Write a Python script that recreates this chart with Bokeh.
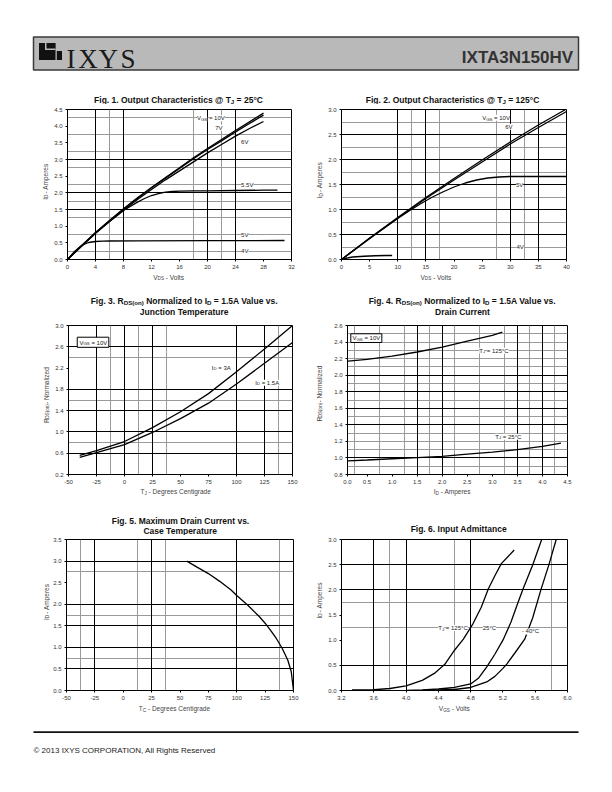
import math
from bokeh.plotting import figure
from bokeh.layouts import column, row
from bokeh.models import Label, BoxAnnotation, Range1d, FixedTicker, Grid, NumeralTickFormatter
from bokeh.embed import file_html
from bokeh.resources import INLINE

# ---------------- data ----------------
# Fig. 1  Output characteristics @ TJ = 25C
f1_vds = [0, 2, 4, 6, 8, 10, 12, 14, 16, 18, 20, 22, 24, 26, 28]
f1_id_10v = [0, 0.41, 0.81, 1.17, 1.52, 1.85, 2.16, 2.46, 2.75, 3.05, 3.33, 3.60, 3.87, 4.13, 4.39]
f1_id_7v = [0, 0.41, 0.80, 1.16, 1.51, 1.84, 2.15, 2.44, 2.73, 3.02, 3.30, 3.56, 3.83, 4.08, 4.33]
f1_id_6v = [0, 0.40, 0.79, 1.14, 1.48, 1.80, 2.10, 2.39, 2.66, 2.93, 3.20, 3.45, 3.70, 3.93, 4.14]
f1_vds_55 = [0, 2, 4, 6, 8, 10, 11, 12, 13, 14, 15, 16, 18, 20, 24, 28, 30]
f1_id_55v = [0, 0.40, 0.79, 1.14, 1.47, 1.72, 1.83, 1.92, 1.98, 2.02, 2.04, 2.05, 2.06, 2.06, 2.07, 2.08, 2.08]
f1_vds_5 = [0, 1, 2, 3, 4, 5, 6, 10, 20, 31]
f1_id_5v = [0, 0.24, 0.42, 0.51, 0.54, 0.55, 0.555, 0.56, 0.565, 0.57]
f1_xticks = [0, 4, 8, 12, 16, 20, 24, 28, 32]
f1_yticks = [0, 0.5, 1.0, 1.5, 2.0, 2.5, 3.0, 3.5, 4.0, 4.5]

# Fig. 2  Output characteristics @ TJ = 125C
f2_vds = [0, 5, 10, 15, 20, 25, 30, 35, 40]
f2_id_10v = [0, 0.43, 0.84, 1.24, 1.62, 1.99, 2.35, 2.69, 3.01]
f2_id_6v = [0, 0.42, 0.83, 1.22, 1.59, 1.95, 2.31, 2.64, 2.96]
f2_vds_5 = [0, 5, 10, 12, 14, 16, 18, 20, 22, 24, 26, 28, 30, 35, 40]
f2_id_5v = [0, 0.42, 0.82, 0.97, 1.11, 1.24, 1.35, 1.45, 1.53, 1.59, 1.63, 1.65, 1.66, 1.66, 1.66]
f2_vds_4 = [0, 1, 2, 4, 6, 8, 9]
f2_id_4v = [0, 0.03, 0.05, 0.065, 0.075, 0.08, 0.08]
f2_xticks = [0, 5, 10, 15, 20, 25, 30, 35, 40]
f2_yticks = [0, 0.5, 1.0, 1.5, 2.0, 2.5, 3.0]

# Fig. 3  RDS(on) vs junction temperature
f3_tj = [-40, -25, 0, 25, 50, 75, 100, 125, 150]
f3_r_3a = [0.56, 0.65, 0.82, 1.08, 1.38, 1.72, 2.13, 2.56, 3.0]
f3_r_15a = [0.52, 0.61, 0.76, 0.99, 1.25, 1.54, 1.90, 2.29, 2.68]
f3_xticks = [-50, -25, 0, 25, 50, 75, 100, 125, 150]
f3_yticks = [0.2, 0.6, 1.0, 1.4, 1.8, 2.2, 2.6, 3.0]

# Fig. 4  RDS(on) vs drain current
f4_id_125 = [0.12, 0.5, 1.0, 1.5, 2.0, 2.5, 3.0, 3.2]
f4_r_125 = [2.17, 2.19, 2.23, 2.28, 2.34, 2.41, 2.48, 2.52]
f4_id_25 = [0.12, 0.5, 1.0, 1.5, 2.0, 2.5, 3.0, 3.5, 4.0, 4.37]
f4_r_25 = [0.965, 0.975, 0.99, 1.005, 1.02, 1.045, 1.07, 1.10, 1.14, 1.18]
f4_xticks = [0.11, 0.5, 1.0, 1.5, 2.0, 2.5, 3.0, 3.5, 4.0, 4.5]
f4_xlabel_over = {0.11: "0.0"}
f4_yticks = [0.8, 1.0, 1.2, 1.4, 1.6, 1.8, 2.0, 2.2, 2.4, 2.6]

# Fig. 5  Maximum drain current vs case temperature
f5_tc = [56, 65, 75, 85, 95, 100, 110, 120, 125, 130, 135, 140, 145, 148, 150]
f5_id = [3.0, 2.86, 2.71, 2.53, 2.33, 2.2, 1.97, 1.71, 1.56, 1.39, 1.2, 0.98, 0.7, 0.44, 0.0]
f5_xticks = [-50, -25, 0, 25, 50, 75, 100, 125, 150]
f5_yticks = [0, 0.5, 1.0, 1.5, 2.0, 2.5, 3.0, 3.5]

# Fig. 6  Input admittance
f6_vgs_125 = [3.33, 3.6, 3.8, 4.0, 4.2, 4.35, 4.48, 4.6, 4.71, 4.83, 4.93, 5.02, 5.1, 5.18, 5.34]
f6_id_125 = [0.01, 0.015, 0.04, 0.09, 0.2, 0.34, 0.52, 0.8, 1.02, 1.33, 1.65, 2.02, 2.28, 2.52, 2.79]
f6_vgs_25 = [4.0, 4.2, 4.4, 4.6, 4.8, 4.9, 5.0, 5.1, 5.2, 5.3, 5.38, 5.45, 5.57, 5.68]
f6_id_25 = [0.0, 0.01, 0.03, 0.06, 0.13, 0.25, 0.47, 0.72, 1.0, 1.36, 1.72, 2.02, 2.5, 3.0]
f6_vgs_m40 = [4.2, 4.6, 4.8, 5.0, 5.1, 5.2, 5.25, 5.35, 5.47, 5.57, 5.67, 5.77, 5.86]
f6_id_m40 = [0.0, 0.02, 0.06, 0.17, 0.28, 0.44, 0.53, 0.75, 1.02, 1.45, 2.0, 2.5, 3.0]
f6_xticks = [3.2, 3.6, 4.0, 4.4, 4.8, 5.2, 5.6, 6.0]
f6_yticks = [0, 0.5, 1.0, 1.5, 2.0, 2.5, 3.0]

# grid lines (black majors / grey minors) as drawn in the datasheet
f1_grid = dict(xb=[4, 8, 20, 24], xg=[6, 18, 22], yb=[1.5, 2.0, 3.0],
               yg=[0.25, 0.75, 1.25, 1.75, 2.25, 2.75, 3.25, 3.75, 4.25])
f2_grid = dict(xb=[10, 15, 30, 35], xg=[12.5, 17.5, 27.5, 32.5], yb=[0.5, 1.0, 1.5, 2.0, 2.5],
               yg=[0.25, 0.75, 1.25, 1.75, 2.25, 2.75])
f3_grid = dict(xb=[-25, 0, 25, 100, 125], xg=[-12.5, 12.5, 37.5, 137.5], yb=[0.6, 1.0, 1.4, 1.8, 2.6],
               yg=[0.8, 1.6, 2.4])
f4_grid = dict(xb=[1.5, 2.0, 3.5, 4.0], xg=[0.25, 0.75, 1.25, 1.75, 2.25, 2.75, 3.25, 3.75, 4.25],
               yb=[1.0, 1.4, 1.6, 1.8, 2.0],
               yg=[0.9, 1.1, 1.2, 1.3, 1.5, 1.7, 1.9, 2.1, 2.2, 2.3, 2.4, 2.5])
f5_grid = dict(xb=[-25, 25, 100], xg=[-37.5, 12.5, 37.5, 137.5], yb=[0.5, 1.0, 1.5, 2.0, 3.0],
               yg=[0.75, 1.75, 2.75])
f6_grid = dict(xb=[3.6, 4.0, 4.8], xg=[3.8, 4.6, 5.8], yb=[0.5, 2.0, 2.5], yg=[1.25, 1.75])

# ---------------- styling helpers ----------------
FONT = "Liberation Sans"
GRAY = "#9a9a9a"
PAGE_W = 604
TITLE_SIZE = 8.5
FIX = 1.8   # the renderer sets alphabetic text a little low; lift it back

AR = {' ': 278, '!': 278, '(': 333, ')': 333, ',': 278, '-': 333, '.': 278, '=': 584, '@': 1015,
      'A': 667, 'B': 667, 'C': 722, 'D': 722, 'E': 667, 'F': 611, 'G': 778, 'H': 722, 'I': 278, 'J': 500,
      'K': 667, 'L': 556, 'M': 833, 'N': 722, 'O': 778, 'P': 667, 'Q': 778, 'R': 722, 'S': 667, 'T': 611,
      'U': 722, 'V': 667, 'W': 944, 'X': 667, 'Y': 667, 'Z': 611, 'a': 556, 'b': 556, 'c': 500, 'd': 556,
      'e': 556, 'f': 278, 'g': 556, 'h': 556, 'i': 222, 'j': 222, 'k': 500, 'l': 222, 'm': 833, 'n': 556,
      'o': 556, 'p': 556, 'q': 556, 'r': 333, 's': 500, 't': 278, 'u': 556, 'v': 500, 'w': 722, 'x': 500,
      'y': 500, 'z': 500, '°': 400, '©': 737}
AB = {' ': 278, '(': 333, ')': 333, ',': 278, '-': 333, '.': 278, '=': 584, '@': 975,
      'A': 722, 'B': 722, 'C': 722, 'D': 722, 'E': 667, 'F': 611, 'G': 778, 'H': 722, 'I': 278, 'J': 556,
      'K': 722, 'L': 611, 'M': 833, 'N': 722, 'O': 778, 'P': 667, 'R': 722, 'S': 667, 'T': 611, 'V': 667,
      'a': 556, 'b': 611, 'c': 556, 'd': 611, 'e': 556, 'f': 333, 'g': 611, 'h': 611, 'i': 278, 'j': 278,
      'k': 556, 'l': 278, 'm': 889, 'n': 611, 'o': 611, 'p': 611, 'r': 389, 's': 556, 't': 333, 'u': 611,
      'v': 556, 'w': 778, 'x': 556, 'y': 556, 'z': 500, '°': 400}


def text_width(s, size, bold=False):
    t = AB if bold else AR
    return sum(t.get(c, 556) for c in s) * size / 1000.0


def layout_pieces(pieces, size, bold):
    """Split a run of normal / subscript pieces into positioned parts.
    Leading blanks are turned into an advance (SVG text drops them)."""
    out, adv = [], 0.0
    for txt, sub in pieces:
        fs = size * 0.72 if sub else size
        stripped = txt.lstrip(" ")
        adv += text_width(txt[:len(txt) - len(stripped)], fs, bold)
        out.append((stripped, adv, size * 0.2 if sub else 0.0, fs))
        adv += text_width(stripped, fs, bold)
    return out, adv


def strip(x0, x1, y0, y1):
    """A blank figure whose data coordinates are page pixels (y grows downward)."""
    f = figure(width=x1 - x0, height=y1 - y0, x_range=Range1d(x0, x1), y_range=Range1d(y1, y0),
               output_backend="svg", toolbar_location=None, x_axis_type=None, y_axis_type=None,
               min_border_left=0, min_border_right=0, min_border_top=0, min_border_bottom=0)
    f.outline_line_color = None
    f.background_fill_color = "white"
    f.border_fill_color = "white"
    return f


def page_text(fig, pieces, px, py, size, bold=False, color="#333333", vertical=False, center=False):
    parts, total = layout_pieces(pieces, size, bold)
    start = -total / 2 if center else 0.0
    for txt, adv, down, fs in parts:
        if vertical:
            x, y, ang = px + down - FIX, py - (start + adv), math.pi / 2
        else:
            x, y, ang = px + start + adv, py + down - FIX, 0.0
        fig.add_layout(Label(x=x, y=y, text=txt, angle=ang, text_font=FONT, text_font_size="%.2fpx" % fs,
                             text_font_style="bold" if bold else "normal", text_color=color,
                             text_align="left", text_baseline="alphabetic"))


def title(fig, lines, cx, baselines):
    for pieces, by in zip(lines, baselines):
        page_text(fig, pieces, cx, by, TITLE_SIZE, bold=True, color="#111111", center=True)


def xlabel(fig, pieces, px, py):
    page_text(fig, pieces, px, py, 6.5, color="#444444")


def ylabel(fig, pieces, px, py):
    page_text(fig, pieces, px, py, 6.5, color="#444444", vertical=True)


class Panel:
    def __init__(self, page_left, page_top, width, height, frame, xr, yr, xticks, yticks, xfmt, yfmt, grid):
        fl, ft, fr, fb = frame
        p = figure(width=width, height=height, x_range=Range1d(*xr), y_range=Range1d(*yr),
                   output_backend="svg", toolbar_location=None,
                   min_border_left=fl - page_left, min_border_right=page_left + width - fr,
                   min_border_top=ft - page_top, min_border_bottom=page_top + height - fb)
        p.outline_line_color = "black"
        p.outline_line_width = 1
        p.outline_line_alpha = 1.0
        p.background_fill_color = "white"
        p.border_fill_color = "white"
        xa, ya = p.xaxis[0], p.yaxis[0]
        xa.ticker = FixedTicker(ticks=xticks)
        ya.ticker = FixedTicker(ticks=yticks)
        xa.formatter = NumeralTickFormatter(format=xfmt)
        ya.formatter = NumeralTickFormatter(format=yfmt)
        for ax in (xa, ya):
            ax.axis_line_color = "black"
            ax.major_tick_line_color = "black"
            ax.major_tick_out = 2
            ax.major_tick_in = 0
            ax.minor_tick_line_color = None
            ax.major_label_text_font = FONT
            ax.major_label_text_font_size = "6px"
            ax.major_label_text_color = "#333333"
        xa.major_label_standoff = 3
        ya.major_label_standoff = 3
        p.grid.visible = False
        for dim, key, col in ((0, "xg", GRAY), (1, "yg", GRAY), (0, "xb", "black"), (1, "yb", "black")):
            p.add_layout(Grid(dimension=dim, ticker=FixedTicker(ticks=grid[key]),
                              grid_line_color=col, grid_line_width=1))
        self.p = p

    def curve(self, x, y):
        self.p.line(x, y, line_color="black", line_width=1.3)

    def data_text(self, pieces, x, y, size=6.0, bg="white"):
        parts, total = layout_pieces(pieces, size, False)
        for txt, adv, down, fs in parts:
            self.p.add_layout(Label(x=x, y=y, x_offset=adv, y_offset=-(0.35 * size + down) + FIX, text=txt,
                                    text_font=FONT, text_font_size="%.2fpx" % fs, text_color="#222222",
                                    text_align="left", text_baseline="alphabetic",
                                    background_fill_color=bg, background_fill_alpha=1.0))

    def box(self, l, r, t, b):
        self.p.add_layout(BoxAnnotation(left=l, right=r, top=t, bottom=b, fill_color="white",
                                        fill_alpha=1.0, line_color="black", line_width=1, line_alpha=1.0))


def S(t):
    return (t, 0)


def B(t):
    return (t, 1)


VGS10 = [S("V"), B("GS"), S(" = 10V")]
ID_AMP = [S("I"), B("D"), S(" - Amperes")]
RDS_NORM = [S("R"), B("DS(on)"), S(" - Normalized")]

# ================= row 1 : Fig. 1 & Fig. 2 =================
T1 = strip(0, PAGE_W, 82, 104)
title(T1, [[S("Fig. 1. Output Characteristics @ T"), B("J"), S(" = 25°C")]], 178, [100.8])
title(T1, [[S("Fig. 2. Output Characteristics @ T"), B("J"), S(" = 125°C")]], 452, [100.8])

YL1a = strip(0, 50, 104, 272)
ylabel(YL1a, ID_AMP, 46.3, 205)
YL1b = strip(305, 325, 104, 272)
ylabel(YL1b, ID_AMP, 321.0, 203.3)

f1 = Panel(50, 104, 255, 168, (67, 108, 291, 259), (0, 32), (0, 4.5), f1_xticks, f1_yticks, "0", "0.0", f1_grid)
for yv in (f1_id_10v, f1_id_7v, f1_id_6v):
    f1.curve(f1_vds, yv)
f1.curve(f1_vds_55, f1_id_55v)
f1.curve(f1_vds_5, f1_id_5v)
f1.data_text(VGS10, 18.5, 4.25)
f1.data_text([S("7V")], 21.1, 3.96)
f1.data_text([S("6V")], 24.8, 3.53)
f1.data_text([S("5.5V")], 24.8, 2.25)
f1.data_text([S("5V")], 24.8, 0.75)
f1.data_text([S("4V")], 24.8, 0.25)

f2 = Panel(325, 104, 279, 168, (339, 109, 566, 260), (0, 40), (0, 3.0), f2_xticks, f2_yticks, "0", "0.0", f2_grid)
f2.curve(f2_vds, f2_id_10v)
f2.curve(f2_vds, f2_id_6v)
f2.curve(f2_vds_5, f2_id_5v)
f2.curve(f2_vds_4, f2_id_4v)
f2.data_text(VGS10, 25.0, 2.84)
f2.data_text([S("6V")], 29.1, 2.66)
f2.data_text([S("5V")], 31.0, 1.5)
f2.data_text([S("4V")], 31.1, 0.25)

X1 = strip(0, PAGE_W, 272, 290)
xlabel(X1, [S("V"), B("DS"), S(" - Volts")], 152.7, 278.8)
xlabel(X1, [S("V"), B("DS"), S(" - Volts")], 420, 278.8)

# ================= row 2 : Fig. 3 & Fig. 4 =================
T2 = strip(0, PAGE_W, 290, 319)
title(T2, [[S("Fig. 3. R"), B("DS(on)"), S(" Normalized to I"), B("D"), S(" = 1.5A Value vs.")],
           [S("Junction Temperature")]], 184, [302.0, 313.0])
title(T2, [[S("Fig. 4. R"), B("DS(on)"), S(" Normalized to I"), B("D"), S(" = 1.5A Value vs.")],
           [S("Drain Current")]], 462, [302.0, 313.0])

YL2a = strip(0, 50, 319, 486)
ylabel(YL2a, RDS_NORM, 47.3, 428.3)
YL2b = strip(305, 325, 319, 486)
ylabel(YL2b, RDS_NORM, 320.5, 426.7)

f3 = Panel(50, 319, 255, 167, (68, 323, 292, 474), (-50, 150), (0.2, 3.0), f3_xticks, f3_yticks, "0", "0.0", f3_grid)
f3.curve(f3_tj, f3_r_3a)
f3.curve(f3_tj, f3_r_15a)
f3.box(-42.2, -14.0, 2.78, 2.59)
f3.data_text(VGS10, -40.2, 2.685, bg=None)
f3.data_text([S("I"), B("D"), S(" = 3A")], 78, 2.216)
f3.data_text([S("I"), B("D"), S(" = 1.5A")], 116.7, 1.93)

f4 = Panel(325, 319, 279, 167, (347, 325, 567, 474), (0.11, 4.5), (0.8, 2.6), f4_xticks, f4_yticks, "0.0", "0.0", f4_grid)
f4.p.xaxis[0].major_label_overrides = f4_xlabel_over
f4.curve(f4_id_125, f4_r_125)
f4.curve(f4_id_25, f4_r_25)
f4.box(0.176, 0.795, 2.50, 2.395)
f4.data_text(VGS10, 0.21, 2.447, bg=None)
f4.data_text([S("T"), B("J"), S(" = 125°C")], 2.74, 2.3)
f4.data_text([S("T"), B("J"), S(" = 25°C")], 3.06, 1.26)

X2 = strip(0, PAGE_W, 486, 505)
xlabel(X2, [S("T"), B("J"), S(" - Degrees Centigrade")], 140, 493.0)
xlabel(X2, [S("I"), B("D"), S(" - Amperes")], 433.3, 493.0)

# ================= row 3 : Fig. 5 & Fig. 6 =================
T3 = strip(0, PAGE_W, 505, 535)
title(T3, [[S("Fig. 5. Maximum Drain Current vs.")], [S("Case Temperature")]], 180, [522.0, 532.5])
title(T3, [[S("Fig. 6. Input Admittance")]], 458.3, [530.5])

YL3a = strip(0, 50, 535, 704)
ylabel(YL3a, ID_AMP, 47.5, 625)
YL3b = strip(305, 325, 535, 704)
ylabel(YL3b, ID_AMP, 320.5, 623.3)

f5 = Panel(50, 535, 255, 169, (66, 539, 293, 692), (-50, 150), (0, 3.5), f5_xticks, f5_yticks, "0", "0.0", f5_grid)
f5.curve(f5_tc, f5_id)

f6 = Panel(325, 535, 279, 169, (339, 539, 567, 690), (3.2, 6.0), (0, 3.0), f6_xticks, f6_yticks, "0.0", "0.0", f6_grid)
f6.curve(f6_vgs_125, f6_id_125)
f6.curve(f6_vgs_25, f6_id_25)
f6.curve(f6_vgs_m40, f6_id_m40)
f6.data_text([S("T"), B("J"), S(" = 125°C")], 4.40, 1.25)
f6.data_text([S("25°C")], 4.95, 1.25)
f6.data_text([S("- 40°C")], 5.435, 1.18)

X3 = strip(0, PAGE_W, 704, 718)
xlabel(X3, [S("T"), B("C"), S(" - Degrees Centigrade")], 138.3, 710.2)
xlabel(X3, [S("V"), B("GS"), S(" - Volts")], 438.3, 710.2)

# ================= header & footer =================
HDR = strip(0, PAGE_W, 0, 82)


def hbox(fig, l, r, t, b, fill, line=None, lw=1.0):
    fig.add_layout(BoxAnnotation(left=l, right=r, top=t, bottom=b, fill_color=fill, fill_alpha=1.0,
                                 line_color=line, line_width=lw, line_alpha=1.0 if line else 0.0))


hbox(HDR, 33, 578, 36.5, 69.5, "#b9b9b9", "#3a3a3a", 1.5)
# logo mark
hbox(HDR, 38.5, 55.0, 42.5, 59.5, "#111111")
hbox(HDR, 44.5, 55.0, 42.5, 49.5, "#b9b9b9")
hbox(HDR, 46.0, 55.0, 42.5, 48.0, "#111111")
hbox(HDR, 56.3, 61.5, 50.5, 59.5, "#111111")
for ch, cx in (("I", 70.5), ("X", 87.6), ("Y", 107.8), ("S", 127.6)):
    HDR.add_layout(Label(x=cx, y=60.0 - FIX, text=ch, text_font="Liberation Serif", text_font_size="27px",
                         text_color="#1a1a1a", text_align="center", text_baseline="alphabetic"))
HDR.add_layout(Label(x=572.5, y=58.8 - FIX, text="IXTA3N150HV", text_font=FONT, text_font_size="17px",
                     text_font_style="bold", text_color="#333333", text_align="right",
                     text_baseline="alphabetic"))

FTR = strip(0, PAGE_W, 718, 784)
hbox(FTR, 33, 578, 730.8, 732.4, "#111111")
FTR.add_layout(Label(x=33, y=752 - FIX, text="© 2013 IXYS CORPORATION, All Rights Reserved", text_font=FONT,
                     text_font_size="8px", text_color="#222222", text_align="left", text_baseline="alphabetic"))

page = column(
    HDR,
    T1, row(YL1a, f1.p, YL1b, f2.p), X1,
    T2, row(YL2a, f3.p, YL2b, f4.p), X2,
    T3, row(YL3a, f5.p, YL3b, f6.p), X3,
    FTR,
)
open("out.html", "w").write(file_html(page, INLINE))
